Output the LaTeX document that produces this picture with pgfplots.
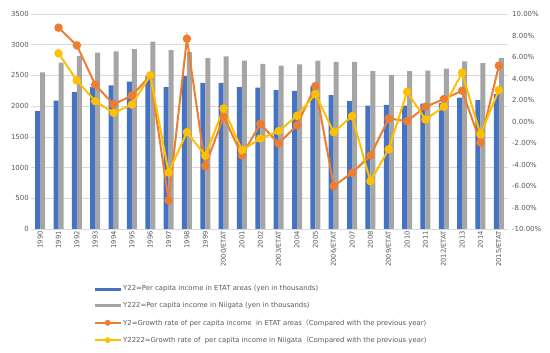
\documentclass[border=0pt]{standalone}
\usepackage{pgfplots}
\pgfplotsset{compat=1.18}
\usepackage{pgfplotstable}
\usepackage{fontspec}
\setmainfont{DejaVu Sans}
\newfontfamily\cjk{Noto Sans CJK SC}
\definecolor{cblue}{HTML}{4472C4}
\definecolor{cgray}{HTML}{A5A5A5}
\definecolor{corange}{HTML}{ED7D31}
\definecolor{cyellow}{HTML}{FFC000}
\definecolor{ctext}{HTML}{595959}
\definecolor{cgrid}{HTML}{D9D9D9}

\pgfplotsset{
  barlegend/.style={legend image code/.code={\draw[##1] (0bp,0bp) -- (26bp,0bp);}},
  linelegend/.style={legend image code/.code={\draw[mark repeat=2, mark phase=2, ##1] plot coordinates {(0bp,0bp) (13bp,0bp) (26bp,0bp)};}},
}

\pgfplotstableread{
x blue gray orange yellow
0 1920 2550 nan nan
1 2090 2710 8.73 6.34
2 2230 2820 7.08 3.82
3 2310 2870 3.42 1.89
4 2340 2890 1.58 0.81
5 2400 2930 2.42 1.58
6 2490 3050 4.25 4.29
7 2310 2910 -7.33 -4.75
8 2490 2880 7.70 -0.99
9 2380 2780 -4.16 -3.17
10 2380 2810 0.45 1.21
11 2310 2740 -3.14 -2.67
12 2300 2690 -0.22 -1.58
13 2260 2660 -2.05 -0.90
14 2250 2680 -0.34 0.53
15 2320 2740 3.29 2.55
16 2180 2720 -6.00 -1.00
17 2080 2720 -4.78 0.50
18 2010 2570 -3.17 -5.56
19 2020 2510 0.28 -2.58
20 2010 2570 0.03 2.76
21 2040 2580 1.37 0.19
22 2050 2610 2.08 1.37
23 2140 2730 2.86 4.53
24 2100 2700 -1.95 -1.21
25 2200 2780 5.19 2.92
}\datatable

\begin{document}
\begin{tikzpicture}
\pgfplotsset{
  common/.style={
    scale only axis, width=477bp, height=215bp,
    xmin=-0.5, xmax=25.5,
    major tick length=0pt,
    /pgf/number format/assume math mode=true,
    /pgf/number format/1000 sep={},
    tick label style={font=\fontsize{7}{8}\selectfont, text=ctext},
  }
}
\begin{axis}[common,
  at={(0,0)}, anchor=south west,
  ymin=0, ymax=3500, ytick={0,500,...,3500},
  ymajorgrids, major grid style={cgrid, line width=0.7bp},
  axis lines*=left,
  separate axis lines,
  x axis line style={draw=cgrid, line width=0.7bp},
  y axis line style={draw=none},
  xtick={0,...,25},
  xticklabels={1990,1991,1992,1993,1994,1995,1996,1997,1998,1999,2000/ETAT,2001,2002,2003/ETAT,2004,2005,2006/ETAT,2007,2008,2009/ETAT,2010,2011,2012/ETAT,2013,2014,2015/ETAT},
  xticklabel style={rotate=90, anchor=east, font=\fontsize{6.8}{7}\selectfont, inner sep=2bp},
  yticklabel style={inner sep=2bp},
  ybar=0pt, bar width=5bp,
]
\addplot[fill=cblue, draw=none] table[x=x, y=blue] {\datatable};
\addplot[fill=cgray, draw=none] table[x=x, y=gray] {\datatable};
\end{axis}
\begin{axis}[common,
  at={(0,0)}, anchor=south west,
  ymin=-10, ymax=10, ytick={-10,-8,...,10},
  yticklabels={-10.00\%,-8.00\%,-6.00\%,-4.00\%,-2.00\%,0.00\%,2.00\%,4.00\%,6.00\%,8.00\%,10.00\%},
  axis x line=none,
  axis y line*=right,
  y axis line style={draw=none},
  yticklabel style={inner sep=2bp, xshift=2bp},
  legend style={at={(59bp,-53.5bp)}, anchor=north west, draw=none, fill=none,
    font=\fontsize{6.9}{8}\selectfont, text=ctext,
    legend cell align=left, row sep=8bp,
    nodes={inner sep=1bp}},
]
\addlegendimage{barlegend, cblue, line width=3bp}
\addlegendimage{barlegend, cgray, line width=3bp}
\addlegendimage{linelegend, corange, line width=1.8bp, mark=*, mark size=2bp, mark options={fill=corange, draw=corange}}
\addlegendimage{linelegend, cyellow, line width=1.8bp, mark=*, mark size=2bp, mark options={fill=cyellow, draw=cyellow}}
\addplot[forget plot, corange, line width=2bp, mark=*, mark size=3.2bp, mark options={fill=corange, draw=corange}, unbounded coords=jump] table[x=x, y=orange] {\datatable};
\addplot[forget plot, cyellow, line width=2bp, mark=*, mark size=3.2bp, mark options={fill=cyellow, draw=cyellow}, unbounded coords=jump] table[x=x, y=yellow] {\datatable};
\legend{Y22=Per capita income in ETAT areas (yen in thousands),
Y222=Per capita income in Niigata (yen in thousands),
Y2=Growth rate of per capita income\ \ in ETAT areas{\cjk（}Compared with the previous year),
Y2222=Growth rate of\ \ per capita income in Niigata{\cjk（}Compared with the previous year)}
\end{axis}
\path (-31bp,-124bp) rectangle (519bp,229bp);
\end{tikzpicture}
\end{document}
